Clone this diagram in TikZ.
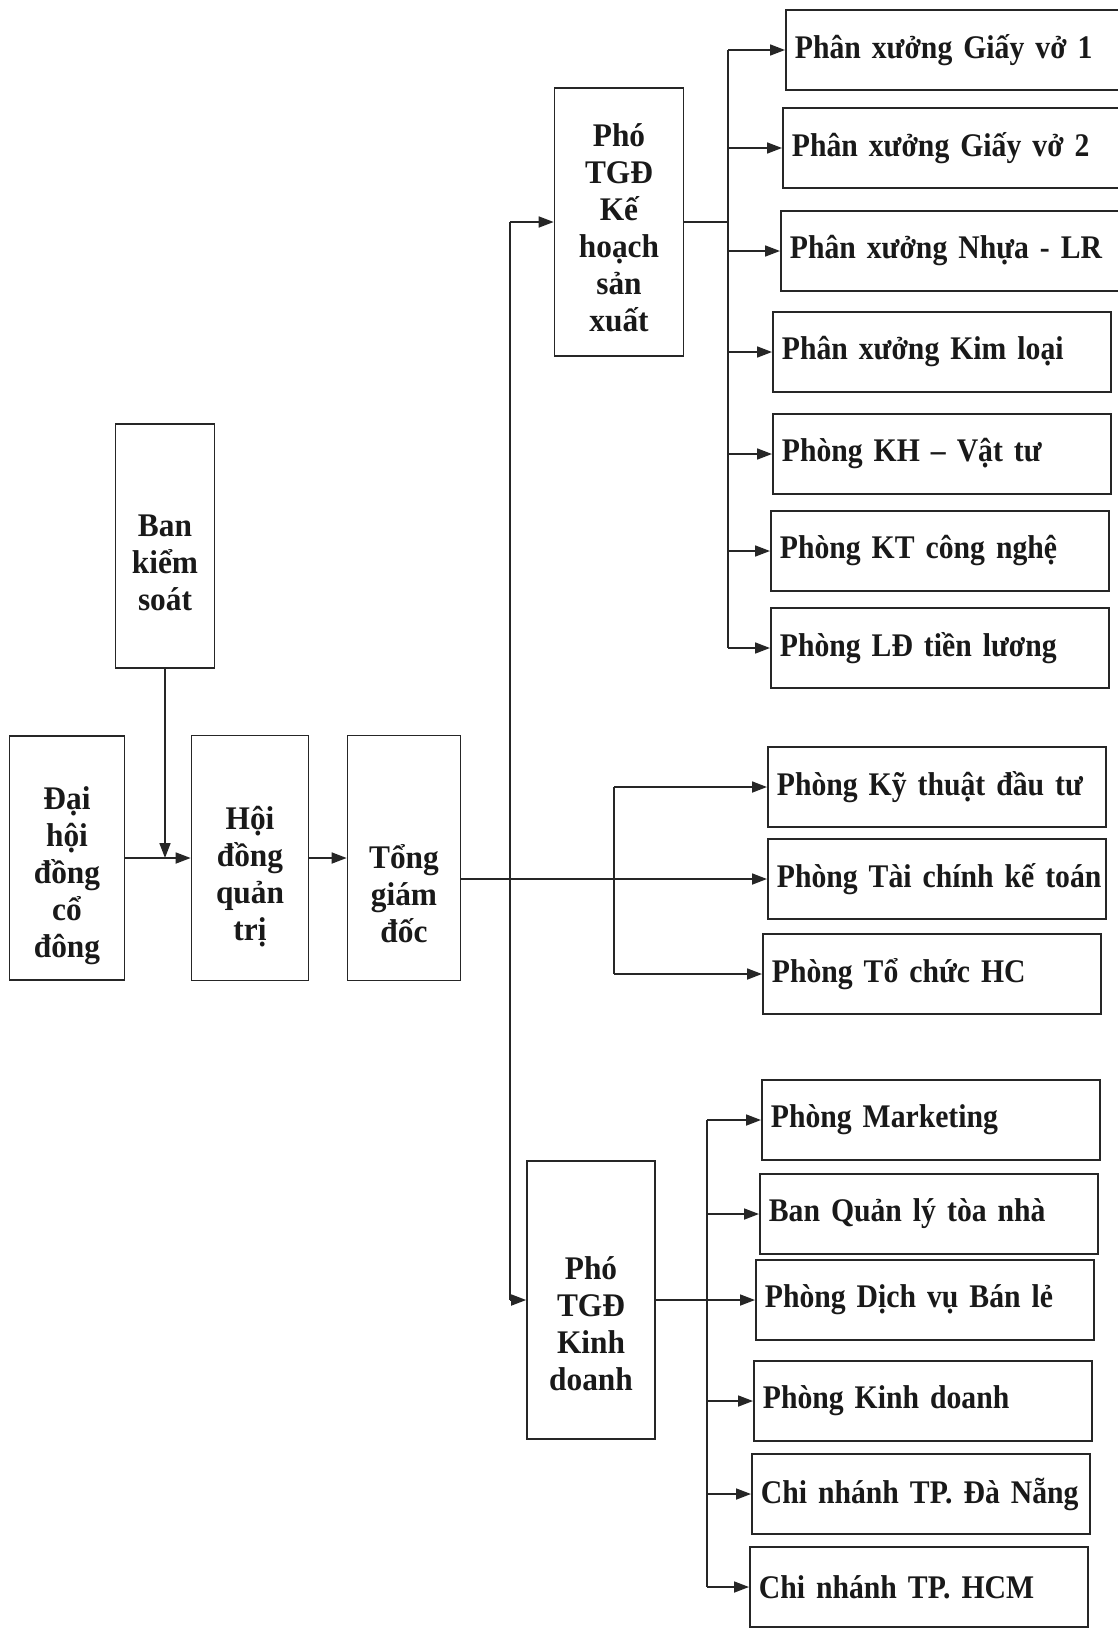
\documentclass[tikz,border=0pt]{standalone}
\usepackage{fontspec}
\setmainfont{Liberation Serif}
\newfontfamily\rfont[FakeStretch=0.9]{Liberation Serif}
\newfontfamily\lfont[FakeStretch=0.95]{Liberation Serif}
\usetikzlibrary{arrows.meta,calc}
\tikzset{
  ln/.style={line width=1.7pt, draw=black!85},
  arr/.style={ln, -{Triangle[length=15pt,width=11pt]}},
  vbox/.style={ln, draw, inner sep=0pt},
  vtext/.style={align=center, inner sep=0pt, text=black!90, font=\lfont\fontsize{33}{37}\selectfont\bfseries},
  rbox/.style={ln, draw, anchor=west, minimum height=80pt, text width=320pt, inner xsep=9pt, align=left, text=black!90, font=\rfont\fontsize{33}{38}\selectfont\bfseries}
}
\begin{document}
\begin{tikzpicture}[x=1pt,y=-1pt]
\fill[white] (0,0) rectangle (1118,1630);
\useasboundingbox (0,0) rectangle (1118,1630);

% left column boxes
\node[vbox, minimum width=115pt, minimum height=244pt] (dhd) at (67,858) {};
\node[vtext] (dhdT) at ($(dhd)+(0,18)$) {Đại\\hội\\đồng\\cổ\\đông};
\node[vbox, minimum width=99pt, minimum height=244pt] (bks) at (165,546) {};
\node[vtext] (bksT) at ($(bks)+(0,17)$) {Ban\\kiểm\\soát};
\node[vbox, minimum width=117pt, minimum height=245pt] (hdq) at (250,858) {};
\node[vtext] (hdqT) at ($(hdq)+(0,19)$) {Hội\\đồng\\quản\\trị};
\node[vbox, minimum width=113pt, minimum height=245pt] (tgd) at (404,858) {};
\node[vtext] (tgdT) at ($(tgd)+(0,36)$) {Tổng\\giám\\đốc};
\node[vbox, minimum width=129pt, minimum height=268pt] (pkh) at (619,222) {};
\node[vtext] (pkhT) at ($(pkh)+(0,6)$) {Phó\\TGĐ\\Kế\\hoạch\\sản\\xuất};
\node[vbox, minimum width=128pt, minimum height=278pt] (pkd) at (591,1300) {};
\node[vtext] (pkdT) at ($(pkd)+(0,24)$) {Phó\\TGĐ\\Kinh\\doanh};

% right boxes
\node[rbox] (p1) at (785,50) {\mbox{Phân xưởng Giấy vở 1}};
\node[rbox] (p2) at (782,148) {\mbox{Phân xưởng Giấy vở 2}};
\node[rbox] (p3) at (780,251) {\mbox{Phân xưởng Nhựa - LR}};
\node[rbox] (p4) at (772,352) {\mbox{Phân xưởng Kim loại}};
\node[rbox] (p5) at (772,454) {\mbox{Phòng KH – Vật tư}};
\node[rbox] (p6) at (770,551) {\mbox{Phòng KT công nghệ}};
\node[rbox] (p7) at (770,648) {\mbox{Phòng LĐ tiền lương}};
\node[rbox] (m1) at (767,787) {\mbox{Phòng Kỹ thuật đầu tư}};
\node[rbox] (m2) at (767,879) {\mbox{Phòng Tài chính kế toán}};
\node[rbox] (m3) at (762,974) {\mbox{Phòng Tổ chức HC}};
\node[rbox] (q1) at (761,1120) {\mbox{Phòng Marketing}};
\node[rbox] (q2) at (759,1214) {\mbox{Ban Quản lý tòa nhà}};
\node[rbox] (q3) at (755,1300) {\mbox{Phòng Dịch vụ Bán lẻ}};
\node[rbox] (q4) at (753,1401) {\mbox{Phòng Kinh doanh}};
\node[rbox] (q5) at (751,1494) {\mbox{Chi nhánh TP. Đà Nẵng}};
\node[rbox] (q6) at (749,1587) {\mbox{Chi nhánh TP. HCM}};

% bus coordinates
\coordinate (trunk) at (510,0);
\coordinate (mb) at (614,0);
\coordinate (tb) at (728,0);
\coordinate (bb) at (707,0);
\coordinate (j1) at (bks.south |- dhd.east);

% main chain
\draw[arr] (dhd.east) -- (hdq.west);
\draw[arr] (bks.south) -- (j1);
\draw[arr] (hdq.east) -- (tgd.west);
\draw[arr] (tgd.east |- m2.west) -- (m2.west);

% trunk to deputies
\draw[ln] (trunk |- pkh.west) -- (trunk |- pkd.west);
\draw[arr] (trunk |- pkh.west) -- (pkh.west);
\draw[arr] (trunk |- pkd.west) -- (pkd.west);

% middle bus
\draw[ln] (mb |- m1.west) -- (mb |- m3.west);
\draw[arr] (mb |- m1.west) -- (m1.west);
\draw[arr] (mb |- m3.west) -- (m3.west);

% top bus
\draw[ln] (pkh.east) -- (tb |- pkh.east);
\draw[ln] (tb |- p1.west) -- (tb |- p7.west);
\foreach \n in {p1,p2,p3,p4,p5,p6,p7}
  \draw[arr] (tb |- \n.west) -- (\n.west);

% bottom bus
\draw[ln] (bb |- q1.west) -- (bb |- q6.west);
\draw[arr] (pkd.east |- q3.west) -- (q3.west);
\foreach \n in {q1,q2,q4,q5,q6}
  \draw[arr] (bb |- \n.west) -- (\n.west);
\end{tikzpicture}
\end{document}
